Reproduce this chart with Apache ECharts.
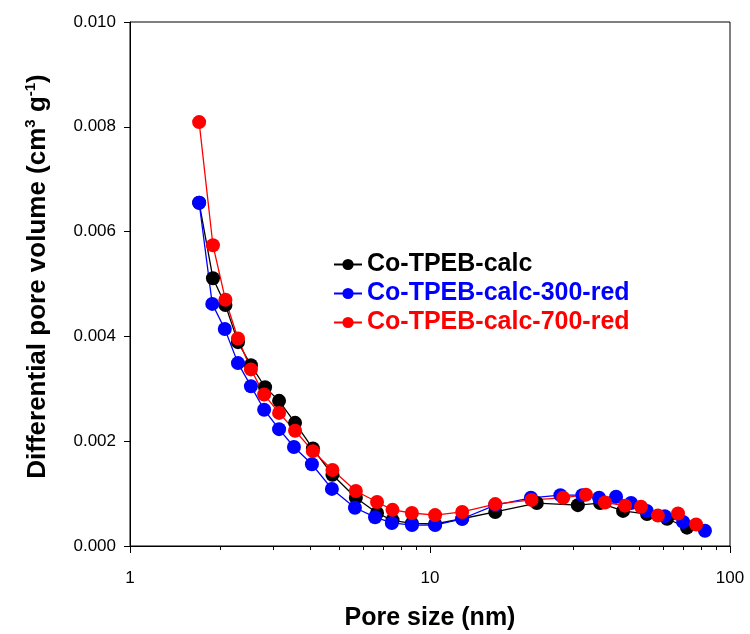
<!DOCTYPE html>
<html><head><meta charset="utf-8">
<script src="https://cdn.jsdelivr.net/npm/echarts@6/dist/echarts.min.js"></script>
<style>html,body{margin:0;padding:0;background:#fff}#c{width:750px;height:634px}</style>
</head><body><div id="c"></div>
<script>
var seriesNames = ['Co-TPEB-calc', 'Co-TPEB-calc-300-red', 'Co-TPEB-calc-700-red'];
var blackX = [1.70, 1.89, 2.08, 2.29, 2.53, 2.82, 3.14, 3.55, 4.07, 4.73, 5.66, 6.66, 7.50, 8.70, 10.4, 12.8, 16.5, 22.7, 31.1, 36.9, 44.0, 52.9, 61.7, 71.9];
var blackY = [0.00655, 0.00511, 0.00460, 0.00389, 0.00345, 0.00303, 0.00277, 0.00235, 0.00186, 0.00136, 0.00092, 0.00063, 0.00049, 0.00043, 0.00042, 0.00052, 0.00065, 0.00082, 0.00078, 0.00082, 0.00067, 0.00061, 0.00052, 0.00035];
var blueX = [1.70, 1.88, 2.07, 2.29, 2.53, 2.80, 3.14, 3.52, 4.04, 4.71, 5.62, 6.56, 7.46, 8.71, 10.4, 12.8, 16.5, 21.7, 27.2, 32.2, 36.6, 41.7, 46.8, 52.8, 60.6, 69.8, 82.5];
var blueY = [0.00655, 0.00462, 0.00414, 0.00349, 0.00305, 0.00260, 0.00223, 0.00189, 0.00156, 0.00109, 0.00073, 0.00055, 0.00044, 0.00040, 0.00040, 0.00052, 0.00078, 0.00092, 0.00097, 0.00097, 0.00092, 0.00094, 0.00082, 0.00067, 0.00057, 0.00046, 0.00029];
var redX = [1.70, 1.89, 2.08, 2.29, 2.53, 2.80, 3.14, 3.55, 4.07, 4.73, 5.66, 6.66, 7.50, 8.70, 10.4, 12.8, 16.5, 21.8, 27.8, 33.1, 38.3, 44.7, 50.5, 57.5, 67.1, 77.1];
var redY = [0.00809, 0.00574, 0.00470, 0.00396, 0.00337, 0.00289, 0.00254, 0.00220, 0.00181, 0.00145, 0.00105, 0.00084, 0.00069, 0.00063, 0.00059, 0.00065, 0.00080, 0.00088, 0.00092, 0.00098, 0.00083, 0.00077, 0.00075, 0.00058, 0.00062, 0.00041];
var xMajorTicks = [1, 10, 100];
var xMinorTicks = [2, 3, 4, 5, 6, 7, 8, 9, 20, 30, 40, 50, 60, 70, 80, 90];
var yTicks = [0, 0.002, 0.004, 0.006, 0.008, 0.010];
var colors = ['#000000', '#0000ff', '#ff0000'];

function pairs(xs, ys) { return xs.map(function (x, i) { return [x, ys[i]]; }); }

var font = 'Liberation Sans, Arial, sans-serif';
var chart = echarts.init(document.getElementById('c'), null, {renderer: 'canvas'});
var dataSets = [pairs(blackX, blackY), pairs(blueX, blueY), pairs(redX, redY)];
chart.setOption({
  animation: false,
  backgroundColor: '#ffffff',
  grid: {left: 130, right: 20, top: 22, bottom: 88, containLabel: false, outerBoundsMode: 'none',
         show: true, borderColor: '#000', borderWidth: 1, backgroundColor: 'transparent'},
  legend: {
    orient: 'vertical', left: 328, top: 247, itemWidth: 28, itemHeight: 14, itemGap: 4,
    data: seriesNames.map(function (n, i) { return {name: n, textStyle: {color: colors[i]}}; }),
    textStyle: {fontFamily: font, fontWeight: 'bold', fontSize: 25}
  },
  xAxis: [{
    type: 'log', logBase: 10, min: 1, max: 100,
    name: 'Pore size (nm)', nameLocation: 'middle', nameGap: 60,
    nameTextStyle: {fontFamily: font, fontWeight: 'bold', fontSize: 25, color: '#000'},
    axisLine: {lineStyle: {color: '#000', width: 1}},
    axisTick: {show: true, inside: false, length: 7, lineStyle: {color: '#000'}, customValues: xMajorTicks},
    axisLabel: {fontFamily: font, fontSize: 17, color: '#000', margin: 24, customValues: xMajorTicks},
    splitLine: {show: false}
  }, {
    type: 'log', logBase: 10, min: 1, max: 100, position: 'bottom',
    axisLine: {show: false},
    axisTick: {show: true, inside: false, length: 4, lineStyle: {color: '#000'}, customValues: xMinorTicks},
    axisLabel: {show: false},
    splitLine: {show: false}
  }],
  yAxis: {
    type: 'value', min: 0, max: 0.01, interval: 0.002,
    name: '{a|Differential pore volume (cm}{s|3}{a| g}{s|-1}{a|)}',
    nameLocation: 'middle', nameGap: 77, nameRotate: 90,
    nameTextStyle: {
      color: '#000', padding: [0, 0, 0, 15],
      rich: {
        a: {fontFamily: font, fontWeight: 'bold', fontSize: 26, color: '#000', lineHeight: 30},
        s: {fontFamily: font, fontWeight: 'bold', fontSize: 15, color: '#000', lineHeight: 30, padding: [0, 0, 14, 0]}
      }
    },
    axisLine: {show: true, lineStyle: {color: '#000', width: 1}},
    axisTick: {show: true, inside: false, length: 6, lineStyle: {color: '#000'}},
    axisLabel: {fontFamily: font, fontSize: 17, color: '#000', margin: 14, formatter: function (v) { return v.toFixed(3); }},
    splitLine: {show: false}
  },
  series: seriesNames.map(function (n, i) {
    return {
      name: n, type: 'line', data: dataSets[i], xAxisIndex: 0,
      symbol: 'circle', symbolSize: 14, showAllSymbol: true,
      lineStyle: {color: colors[i], width: 1.3},
      itemStyle: {color: colors[i], borderWidth: 0},
      emphasis: {disabled: true}
    };
  })
});
</script>
</body></html>
